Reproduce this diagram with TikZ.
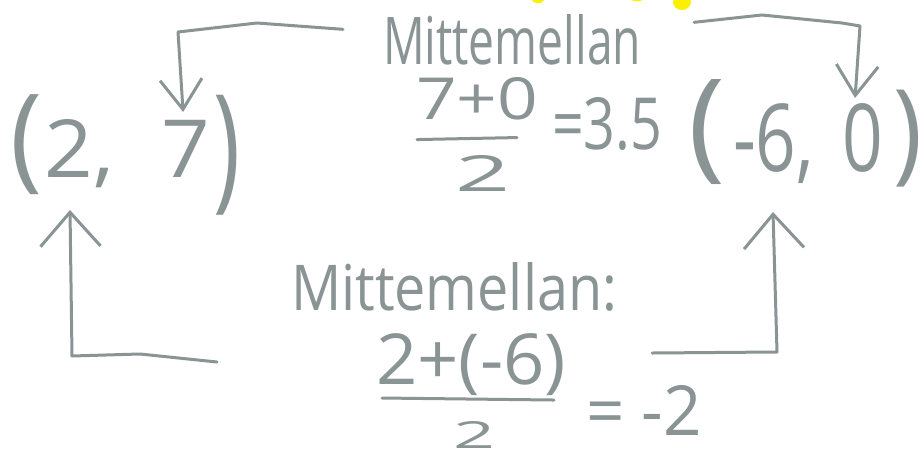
\documentclass[tikz,border=0pt]{standalone}
\usepackage{fontspec}
\setmainfont{Open Sans}
\usetikzlibrary{calc,arrows.meta}
\definecolor{pencil}{RGB}{138,148,148}
\definecolor{hl}{RGB}{250,240,0}
\newcommand{\fitw}[3]{\resizebox{#1pt}{#2pt}{#3}}
\newcommand{\fitt}[3]{\resizebox*{#1pt}{#2pt}{#3}}
\begin{document}
\begin{tikzpicture}[x=1pt,y=-1pt,
  txt/.style={inner sep=0pt,outer sep=0pt,text=pencil},
  link/.style={draw=pencil,line width=3pt,line cap=round,line join=round},
  tipA/.style={-{Straight Barb[length=30pt,width=42pt]}},
  tipB/.style={-{Straight Barb[length=34pt,width=60pt]}},
  barline/.style={draw=pencil,line width=3pt,line cap=round}]
\useasboundingbox (0,0) rectangle (924,457);
\fill[white] (0,0) rectangle (924,457);
% highlighter marks
\fill[hl] (682,2) ellipse [x radius=9pt, y radius=8pt];
\fill[hl] (538,0) ellipse [x radius=6pt, y radius=3pt];
\fill[hl] (637,0) ellipse [x radius=5pt, y radius=1.5pt];
% left tuple
\node[txt,anchor=north west] (lp1) at (10,95) {\fitt{32}{100}{(}};
\node[txt,anchor=base west] (t1) at (45,178) {\fitw{165}{58}{2,\hspace{0.55em}7}};
\node[txt,anchor=north west] (rp1) at (213,95) {\fitt{27}{120}{)}};
% right tuple
\node[txt,anchor=north west] (lp2) at (688,80) {\fitt{37}{105}{(}};
\node[txt,anchor=base west] (t2) at (733,172) {\fitw{150}{68}{-6,\hspace{0.4em}0}};
\node[txt,anchor=north west] (rp2) at (893,90) {\fitt{29}{97}{)}};
% top computation
\node[txt,anchor=base west] (m1) at (383,65) {\fitw{258}{50}{Mittemellan}};
\node[txt,anchor=base west] (n1) at (416,120) {\fitw{122}{42}{7+0}};
\draw[barline] ($(n1.south west)+(1,19)$) -- ($(n1.south west)+(101,17)$);
\node[txt,anchor=base west] (d1) at (455,192) {\fitw{55}{36}{2}};
\node[txt,anchor=base west] (e1) at (552,150) {\fitw{110}{52}{=3.5}};
% bottom computation
\node[txt,anchor=base west] (m2) at (291,310) {\fitw{326}{48}{Mittemellan:}};
\node[txt,anchor=north west] (n2) at (376,334) {\fitt{190}{62}{2+(-6)}};
\draw[barline] ($(n2.south west)+(6,2)$) -- ($(n2.south west)+(178,4)$);
\node[txt,anchor=base west] (d2) at (453,448) {\fitw{42}{27}{2}};
\node[txt,anchor=base west] (e2) at (586,435) {\fitw{116}{50}{= -2}};
% connectors
\draw[link,tipA] ($(m1.west)+(-40,-11)$) -- (257,23) -- (178,32) -- ($(t1.north east)+(-27,-8)$);
\draw[link,tipA] ($(m1.east)+(53,-18)$) -- (762,15) -- (842,23) -- (860,26) -- ($(t2.north east)+(-28,-6)$);
\draw[link,tipB] ($(n2.west)+(-159,-3)$) -- (140,354) -- (72,356) -- ($(t1.base west)+(25,32)$);
\draw[link,tipB] ($(n2.east)+(86,-12)$) -- (777,352) -- ($(t2.base west)+(40,40)$);
\end{tikzpicture}
\end{document}
